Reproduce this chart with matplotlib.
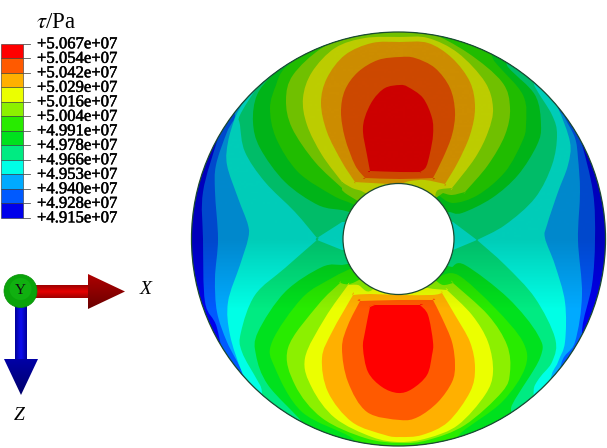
import numpy as np
import matplotlib
matplotlib.use('Agg')
import matplotlib.pyplot as plt
import matplotlib.patheffects as pe
from matplotlib.path import Path
from matplotlib.patches import Circle, Polygon, Rectangle, PathPatch

plt.rcParams['font.family'] = ['Liberation Serif', 'DejaVu Sans']
plt.rcParams['mathtext.fontset'] = 'stix'

# legend, top to bottom
tick_labels = ['+5.067e+07', '+5.054e+07', '+5.042e+07', '+5.029e+07', '+5.016e+07',
               '+5.004e+07', '+4.991e+07', '+4.978e+07', '+4.966e+07', '+4.953e+07',
               '+4.940e+07', '+4.928e+07', '+4.915e+07']
band_colors = ['#ff0000', '#ff5a00', '#ffb000', '#ebff00', '#8cf000', '#28eb00',
               '#00e11e', '#00eb82', '#00ffe6', '#00aaff', '#005aff', '#0000eb']

# contour outlines (image pixels), low band to high band
# a point written twice is a sharp corner of the contour
band_1 = [(230, 100), (218, 138), (203, 192), (203, 239), (205, 302), (217, 328), (225, 380), (225, 460),
          (570, 460), (590, 370), (582, 332), (592, 285), (595, 240), (593, 192), (580, 138), (565, 100),
          (570, 10), (230, 10)]
band_2 = [(225, 100), (235, 115), (227, 132), (216, 165), (215, 192), (218, 239), (215, 278), (217, 312),
          (227, 342), (242, 372), (240, 385), (240, 460), (560, 460), (560, 370), (575, 342), (582, 295),
          (578, 240), (580, 192), (578, 158), (575, 138), (565, 118), (555, 95), (555, 10), (240, 10)]
band_3 = [(250, 85), (243, 102), (235, 118), (228, 142), (227, 165), (238, 198), (248, 225), (248, 239),
          (240, 265), (228, 302), (230, 335), (242, 372), (255, 395), (255, 460), (550, 460), (550, 385),
          (558, 362), (565, 342), (565, 302), (555, 265), (545, 238), (547, 225), (558, 192), (568, 165),
          (570, 142), (558, 108), (545, 85), (545, 10), (255, 10)]
band_4_top = [(317, 238), (317, 238), (295, 212), (265, 182), (245, 152), (240, 125), (240, 115), (257, 88), (272, 72),
              (290, 40), (510, 40), (535, 87), (552, 115), (557, 135), (552, 165), (535, 198), (505, 225),
              (477, 240), (477, 240), (453, 222), (453, 222), (398, 222), (398, 222), (342, 222), (342, 222)]
band_4_bottom = [(317, 240), (317, 240), (342, 250), (342, 250), (398, 250), (398, 250), (453, 250), (453, 250),
                 (477, 240), (477, 240), (505, 265), (535, 298),
                 (555, 338), (552, 362), (535, 385), (510, 440), (290, 440), (260, 385), (242, 352),
                 (241, 332), (255, 295), (285, 268)]
band_5_top = [(342, 210), (342, 210), (318, 205), (285, 182), (260, 148), (253, 122), (257, 95), (273, 75), (298, 58),
              (310, 40), (490, 40), (508, 67), (535, 95), (541, 125), (537, 145), (518, 175), (492, 198),
              (462, 213), (450, 212), (450, 212), (398, 225), (398, 225)]
band_5_bottom = [(342, 265), (342, 265), (398, 255), (398, 255), (452, 267), (452, 267), (465, 265), (508, 298), (538, 335), (540, 358),
                 (512, 405), (500, 440), (310, 440), (302, 422), (268, 385), (256, 355), (258, 332),
                 (285, 292), (322, 267)]
band_6_top = [(348, 202), (348, 202), (332, 195), (298, 172), (276, 138), (270, 108), (276, 85), (285, 68), (318, 42),
              (330, 30), (470, 30), (495, 62), (523, 95), (526, 125), (522, 142), (505, 172), (478, 195),
              (453, 203), (438, 195), (438, 195), (398, 225), (398, 225)]
band_6_bottom = [(352, 268), (352, 268), (332, 278), (302, 298), (272, 342), (275, 368), (302, 412), (352, 438),
                 (360, 455), (440, 455), (462, 432), (502, 402), (525, 368), (523, 342), (495, 308),
                 (458, 275), (438, 277), (438, 277), (398, 255), (398, 255)]
band_7_top = [(398, 225), (398, 225), (348, 195), (342, 188), (342, 188), (315, 162), (292, 128), (286, 100), (293, 75), (322, 48),
              (358, 34), (400, 30), (428, 32), (468, 53), (502, 82), (510, 108), (505, 135), (488, 165),
              (465, 192), (465, 192), (452, 195), (443, 193), (443, 193)]
band_7_bottom = [(398, 255), (398, 255), (355, 282), (340, 283), (340, 283), (318, 305), (288, 348), (295, 385), (322, 418),
                 (365, 438), (400, 443), (428, 440), (465, 425), (502, 392), (510, 372), (507, 345),
                 (488, 315), (453, 283), (453, 283), (443, 285), (435, 280), (435, 280)]
band_8_top = [(398, 225), (398, 225), (368, 195), (352, 188), (342, 182), (342, 182), (322, 155), (307, 125), (303, 98), (312, 72),
              (335, 48), (365, 38), (400, 37), (428, 38), (458, 53), (485, 82), (493, 108), (488, 132),
              (475, 158), (452, 188), (452, 188), (438, 190), (435, 197), (435, 197)]
band_8_bottom = [(398, 255), (398, 255), (372, 290), (358, 285), (348, 285), (348, 285), (325, 318), (305, 358), (312, 388),
                 (335, 418), (372, 437), (400, 442), (428, 438), (458, 425), (485, 395), (493, 372),
                 (488, 342), (472, 315), (447, 290), (447, 290), (428, 288), (420, 283), (420, 283)]
band_9_top = [(398, 184), (372, 183), (355, 182), (355, 182), (342, 162), (327, 132), (321, 103), (327, 78), (345, 55),
              (372, 43), (400, 42), (428, 43), (452, 58), (470, 82), (475, 108), (470, 135), (458, 162),
              (445, 184), (445, 184), (425, 180), (410, 181)]
band_9_bottom = [(353, 295), (353, 295), (332, 332), (322, 358), (328, 392), (352, 422), (385, 435), (400, 437),
                 (422, 435), (448, 422), (470, 392), (475, 368), (470, 342), (455, 315), (442, 293), (442, 293),
                 (432, 295), (398, 295), (370, 294)]
band_10_top = [(341, 112), (345, 90), (358, 72), (378, 60), (400, 57), (415, 58), (435, 68), (450, 88),
               (455, 112), (452, 135), (443, 158), (433, 178), (433, 178), (400, 179), (365, 178), (365, 178), (355, 165), (345, 138)]
band_10_bottom = [(360, 301), (360, 301), (348, 325), (342, 348), (348, 382), (367, 412), (400, 420), (418, 417),
                  (438, 402), (452, 382), (455, 365), (452, 342), (442, 318), (433, 300), (433, 300), (398, 300)]
band_11_top = [(363, 132), (365, 117), (373, 100), (385, 88), (400, 85), (408, 87), (423, 98), (432, 118),
               (433, 135), (430, 153), (426, 167), (420, 172), (420, 172), (400, 172), (370, 171), (370, 171), (367, 155)]
band_11_bottom = [(375, 305), (375, 305), (420, 305), (420, 305), (428, 315), (433, 342), (432, 355), (427, 375), (412, 389),
                  (398, 393), (382, 387), (368, 372), (363, 348), (365, 332), (370, 307), (370, 307)]

bands = [(10, [band_1]), (9, [band_2]), (8, [band_3]), (7, [band_4_top, band_4_bottom]),
         (6, [band_5_top, band_5_bottom]), (5, [band_6_top, band_6_bottom]),
         (4, [band_7_top, band_7_bottom]), (3, [band_8_top, band_8_bottom]),
         (2, [band_9_top, band_9_bottom]), (1, [band_10_top, band_10_bottom]),
         (0, [band_11_top, band_11_bottom])]


def smooth_path(pts):
    # closed outline through the read points, bezier handles from the neighbours
    n = len(pts)
    p = np.array(pts, dtype=float)
    verts = [p[0]]
    codes = [Path.MOVETO]
    for i in range(n):
        p0, p1, p2, p3 = p[i - 1], p[i], p[(i + 1) % n], p[(i + 2) % n]
        verts += [p1 + (p2 - p0) / 6, p2 - (p3 - p1) / 6, p2]
        codes += [Path.CURVE4, Path.CURVE4, Path.CURVE4]
    return Path(verts, codes)


fig = plt.figure(figsize=(6.07, 4.48), dpi=100)
ax = fig.add_axes([0, 0, 1, 1])
ax.set_xlim(0, 607)
ax.set_ylim(448, 0)
ax.axis('off')

# disc with the contour bands
cx, cy, r_out, r_in = 398.5, 239, 207, 55.5
disc = Circle((cx, cy), r_out, fc=band_colors[-1], ec='none', zorder=1)
ax.add_patch(disc)
for idx, polys in bands:
    for pts in polys:
        p = PathPatch(smooth_path(pts), fc=band_colors[idx], ec='none', zorder=2)
        ax.add_patch(p)
        p.set_clip_path(disc)

# upper half of the model is shaded darker
ys = np.linspace(0, 448, 449)
alpha = np.interp(ys, [0, 240, 310, 448], [0.2, 0.2, 0, 0])
shade = np.zeros((449, 1, 4))
shade[:, 0, 3] = alpha
im = ax.imshow(shade, extent=(0, 607, 448, 0), aspect='auto', zorder=3)
im.set_clip_path(disc)

ax.add_patch(Circle((cx, cy), r_out, fc='none', ec='#1c4a30', lw=0.9, zorder=4))
ax.add_patch(Circle((cx, cy), r_in, fc='white', ec='#1c4a30', lw=0.9, zorder=4))

# legend
top, bottom = 44, 218
step = (bottom - top) / len(band_colors)
for i, c in enumerate(band_colors):
    ax.add_patch(Rectangle((1, top + i * step), 22, step, fc=c, ec='#333333', lw=0.4, zorder=2))
for i, lab in enumerate(tick_labels):
    y = top + i * step
    ax.plot([23, 30], [y, y], color='#555555', lw=0.6, zorder=2)
    t = ax.text(37, y + 0.3, lab, fontsize=12, va='center', ha='left', color='black', zorder=3)
    t.set_path_effects([pe.withStroke(linewidth=0.35, foreground='black')])
ax.text(36, 22.5, r'$\tau$/Pa', fontsize=16.5, va='center', ha='left')


# triad
def grad_poly(pts, c1, c2):
    p = Polygon(pts, closed=True, fc='none', ec='none', zorder=5)
    ax.add_patch(p)
    xs = [q[0] for q in pts]
    yy = [q[1] for q in pts]
    g = np.linspace(0, 1, 32)
    rgb = np.outer(1 - g, c1) + np.outer(g, c2)
    im2 = ax.imshow(rgb[:, None, :], extent=(min(xs), max(xs), max(yy), min(yy)), aspect='auto', zorder=5,
                    interpolation='bilinear')
    im2.set_clip_path(p)


def mirror_grad(x0, x1, y0, y1, edge, mid, vertical):
    g = np.abs(np.linspace(-1, 1, 32))[:, None]
    rgb = g * np.array(edge) + (1 - g) * np.array(mid)
    arr = rgb[:, None, :] if vertical else rgb[None, :, :]
    ax.imshow(arr, extent=(x0, x1, y1, y0), aspect='auto', zorder=5, interpolation='bilinear')


mirror_grad(30, 88, 285, 298, (0.62, 0, 0), (0.9, 0, 0), True)
mirror_grad(15, 27, 300, 360, (0, 0, 0.6), (0.05, 0.05, 0.95), False)
grad_poly([(88, 274), (125, 291.5), (88, 309)], (0.68, 0, 0), (0.42, 0, 0))
grad_poly([(4, 359), (38, 359), (21, 395)], (0, 0, 0.65), (0, 0, 0.42))
ax.add_patch(Circle((20.5, 291), 16.5, fc='#0aa30a', ec='#089008', lw=0.5, zorder=6))
ax.add_patch(Circle((20.5, 289), 11, fc='#10b010', ec='none', zorder=6))
ax.text(20, 290, 'Y', fontsize=11, ha='center', va='center', color='#111111', zorder=7)
ax.text(146, 289, 'X', fontsize=14, style='italic', ha='center', va='center')
ax.text(19, 415, 'Z', fontsize=14, style='italic', ha='center', va='center')

ax.set_xlim(0, 607)
ax.set_ylim(448, 0)
fig.savefig('out.png', dpi=100)
